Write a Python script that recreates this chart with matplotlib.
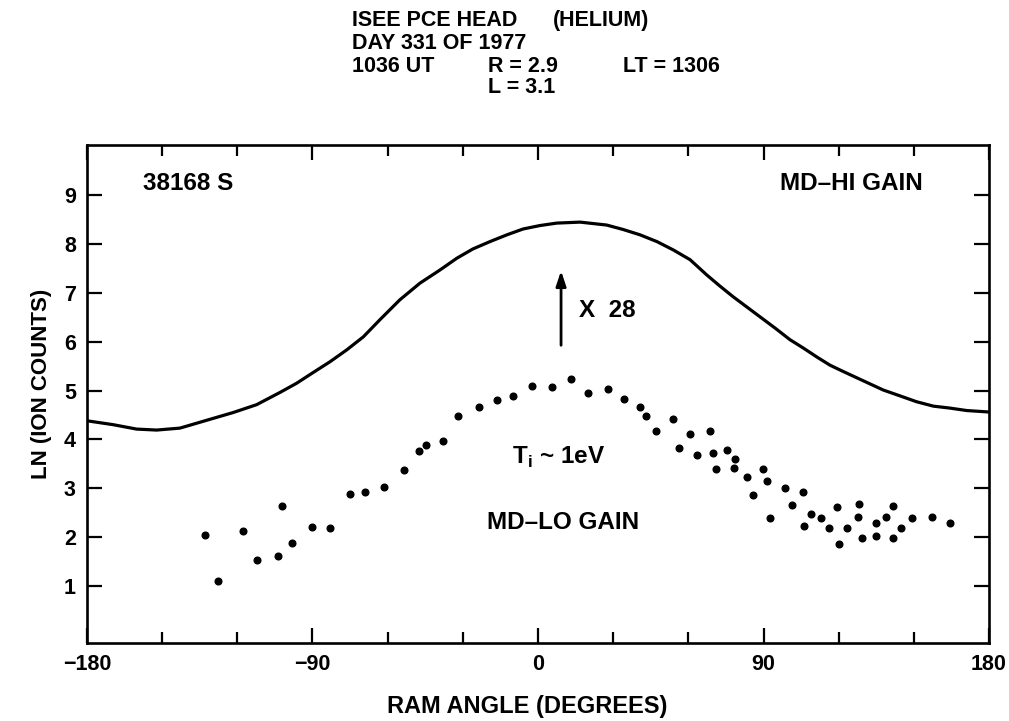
import matplotlib.pyplot as plt
import numpy as np

plt.rcParams['font.family'] = ['Liberation Sans', 'DejaVu Sans']
plt.rcParams['font.weight'] = 'bold'

# MD-HI gain response curve (already scaled up)
hi_angle = [-180, -169.5, -160.2, -152.2, -142.9, -129.6, -121.6, -112.3,
            -103.0, -96.3, -89.7, -83.0, -76.4, -69.7, -63.1, -55.1, -47.1,
            -39.1, -32.4, -26.0, -19.2, -12.4, -5.9, 0.8, 7.5, 16.8, 27.4,
            33.9, 40.7, 47.5, 54.0, 60.7, 67.3, 72.6, 77.9, 88.6, 94.6,
            100.6, 105.9, 111.2, 116.5, 121.8, 129.8, 137.8, 144.5, 151.1,
            157.8, 164.4, 171.1, 180]
hi_ln = [4.38, 4.30, 4.21, 4.19, 4.23, 4.43, 4.55, 4.71,
         4.96, 5.15, 5.37, 5.59, 5.83, 6.10, 6.45, 6.86, 7.20,
         7.47, 7.71, 7.90, 8.05, 8.19, 8.31, 8.38, 8.43, 8.45, 8.39,
         8.30, 8.19, 8.05, 7.88, 7.68, 7.37, 7.14, 6.92, 6.51, 6.28,
         6.04, 5.87, 5.69, 5.52, 5.39, 5.20, 5.01, 4.89, 4.77,
         4.68, 4.64, 4.59, 4.56]

# MD-LO gain samples
lo_angle = [-132.9, -127.6, -117.9, -112.2, -103.7, -102.1, -98.2, -90.1,
            -82.9, -75.0, -69.0, -61.3, -53.6, -47.5, -44.7, -38.0, -32.0,
            -23.7, -16.4, -10.1, -2.3, 5.5, 13.3, 20.1, 28.1, 34.4, 40.8,
            43.0, 46.9, 53.8, 56.4, 60.8, 63.5, 68.5, 70.0, 71.2, 75.3, 78.5,
            78.1, 83.5, 85.8, 89.9, 91.3, 92.7, 98.6, 101.3, 105.8, 106.2,
            109.1, 112.8, 116.0, 119.5, 120.3, 123.3, 127.6, 128.1, 129.4,
            134.9, 135.0, 139.0, 141.6, 141.8, 145.0, 149.4, 157.4, 164.3]
lo_ln = [2.04, 1.10, 2.12, 1.52, 1.62, 2.64, 1.88, 2.20,
         2.18, 2.87, 2.92, 3.03, 3.38, 3.76, 3.89, 3.97, 4.47,
         4.67, 4.80, 4.88, 5.10, 5.07, 5.24, 4.94, 5.03, 4.83, 4.66,
         4.48, 4.17, 4.42, 3.82, 4.10, 3.67, 4.17, 3.73, 3.39, 3.78, 3.60,
         3.41, 3.23, 2.85, 3.40, 3.14, 2.38, 3.00, 2.66, 2.92, 2.23,
         2.47, 2.38, 2.19, 2.61, 1.85, 2.18, 2.41, 2.68, 1.98,
         2.29, 2.03, 2.40, 1.97, 2.64, 2.18, 2.38, 2.41, 2.29]

fig = plt.figure(figsize=(10.09, 7.21), dpi=100)
ax = fig.add_axes([0.0862, 0.1082, 0.8940, 0.6907])

ax.plot(hi_angle, hi_ln, color='black', lw=2.3, solid_joinstyle='round')
ax.plot(lo_angle, lo_ln, 'o', color='black', markersize=4.8)

ax.set_xlim(-180, 180)
ax.set_ylim(-0.172, 10.03)

ax.set_xticks([-180, -90, 0, 90, 180])
ax.set_xticks([a for a in range(-150, 180, 30) if a % 90 != 0], minor=True)
ax.set_xticklabels(['\u2212180', '\u221290', '0', '90', '180'])
ax.set_yticks(range(1, 10))

ax.tick_params(which='both', direction='in', top=True, right=True,
               width=1.6, labelsize=15.5, pad=8)
ax.tick_params(which='major', length=10.5)
ax.tick_params(which='minor', length=8)
for side in ax.spines.values():
    side.set_linewidth(1.9)

# gain factor arrow
ax.annotate('', xy=(9.2, 7.51), xytext=(9.2, 5.87),
            arrowprops=dict(arrowstyle='-|>,head_length=0.9,head_width=0.3',
                            color='black', lw=2))
ax.text(16.4, 6.63, 'X  28', fontsize=17.5, ha='left', va='center')

ax.text(-157.6, 9.25, '38168 S', fontsize=17.5, ha='left', va='center')
ax.text(96.6, 9.25, 'MD\u2013HI GAIN', fontsize=17.5, ha='left', va='center')
ax.text(-10.5, 3.62, r'T$_\mathregular{i}$ ~ 1eV', fontsize=17.5,
        ha='left', va='center')
ax.text(-20.3, 2.29, 'MD\u2013LO GAIN', fontsize=17.5, ha='left', va='center')

# header block
fig.text(0.3489, 0.971, 'ISEE PCE HEAD', fontsize=15.5, va='center')
fig.text(0.548, 0.971, '(HELIUM)', fontsize=15.5, va='center')
fig.text(0.3489, 0.940, 'DAY 331 OF 1977', fontsize=15.5, va='center')
fig.text(0.3489, 0.908, '1036 UT', fontsize=15.5, va='center')
fig.text(0.4837, 0.908, 'R = 2.9', fontsize=15.5, va='center')
fig.text(0.6174, 0.908, 'LT = 1306', fontsize=15.5, va='center')
fig.text(0.4837, 0.878, 'L = 3.1', fontsize=15.5, va='center')

fig.text(0.522, 1 - 707 / 721, 'RAM ANGLE (DEGREES)', fontsize=17,
         ha='center', va='center')
fig.text(42 / 1009, 1 - 384 / 721, 'LN (ION COUNTS)', fontsize=16,
         ha='center', va='center', rotation=90)

fig.savefig('out.png', dpi=100)
